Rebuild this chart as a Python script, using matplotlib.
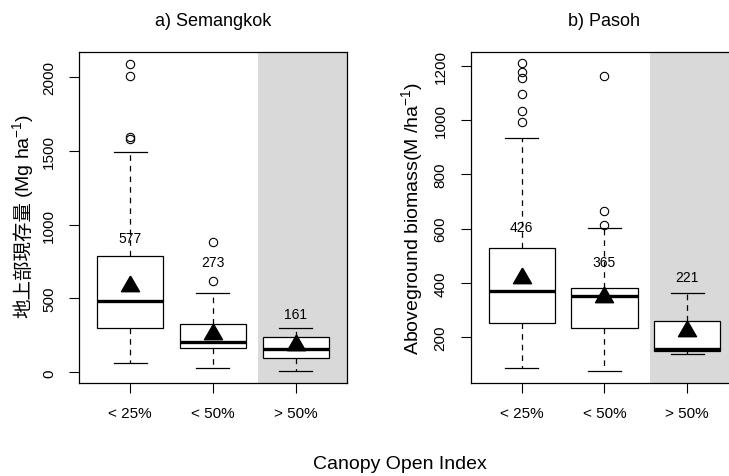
import matplotlib
matplotlib.use("Agg")
import matplotlib.pyplot as plt

plt.rcParams['font.family'] = ['Liberation Sans', 'Noto Sans CJK JP', 'DejaVu Sans']
plt.rcParams['mathtext.fontset'] = 'custom'
plt.rcParams['mathtext.rm'] = 'Liberation Sans'
plt.rcParams['mathtext.it'] = 'Liberation Sans'

categories = ['< 25%', '< 50%', '> 50%']

# a) Semangkok
sem_q1 = [303, 162, 99]
sem_med = [483, 207, 160]
sem_q3 = [787, 324, 241]
sem_lo = [61, 32, 11]
sem_hi = [1492, 537, 303]
sem_mean = [582, 260, 184]
sem_n = [577, 273, 161]
sem_fliers = [[2088, 2004, 1593, 1582], [885, 618], []]
sem_label_y = [910, 750, 396]
sem_yticks = [0, 500, 1000, 1500, 2000]

# b) Pasoh
pas_q1 = [252, 234, 148]
pas_med = [370, 351, 156]
pas_q3 = [528, 383, 259]
pas_lo = [87, 75, 139]
pas_hi = [933, 604, 362]
pas_mean = [420, 348, 224]
pas_n = [426, 365, 221]
pas_fliers = [[1209, 1178, 1154, 1096, 1031, 994], [1160, 664, 615], []]
pas_label_y = [605, 478, 421]
pas_yticks = [200, 400, 600, 800, 1000, 1200]

# triangle with its centroid on the data point (like R pch 17)
tri = [(0, 1.555), (1.347, -0.778), (-1.347, -0.778), (0, 1.555)]


def panel(ax, title, q1, med, q3, lo, hi, mean, n, fliers, label_y,
          yticks, ylim):
    stats = []
    for i in range(len(categories)):
        stats.append(dict(q1=q1[i], med=med[i], q3=q3[i], whislo=lo[i],
                          whishi=hi[i], mean=mean[i], fliers=fliers[i]))
    ax.axvspan(2.55, 4, color='#d9d9d9', lw=0, zorder=0)
    ax.bxp(stats, positions=[1, 2, 3], widths=0.8, showmeans=True,
           patch_artist=True,
           boxprops=dict(facecolor='white', edgecolor='black', lw=0.9),
           medianprops=dict(color='black', lw=2.4, solid_capstyle='butt'),
           whiskerprops=dict(color='black', lw=0.9, linestyle=(0, (4.5, 4))),
           capprops=dict(color='black', lw=0.9),
           flierprops=dict(marker='o', markerfacecolor='none',
                           markeredgecolor='black', markersize=6, mew=0.8),
           meanprops=dict(marker=tri, markerfacecolor='black',
                          markeredgecolor='black', markersize=15))
    for i in range(len(categories)):
        ax.text(i + 1, label_y[i], str(n[i]), ha='center', va='center',
                fontsize=10, zorder=5)
    ax.set_xlim(0.38, 3.62)
    ax.set_ylim(*ylim)
    ax.set_xticks([1, 2, 3], labels=categories)
    ax.set_yticks(yticks)
    ax.tick_params(axis='both', direction='out', length=7.5, width=0.8,
                   labelsize=11, pad=9)
    ax.tick_params(axis='y', labelrotation=90)
    for t in ax.get_yticklabels():
        t.set_va('center')
    for s in ax.spines.values():
        s.set_linewidth(0.9)
    ax.text(0.5, 1 + 31 / 331.3, title, transform=ax.transAxes,
            ha='center', va='center', fontsize=13)


fig = plt.figure(figsize=(7.29, 4.77), dpi=100)
ax1 = fig.add_axes([79 / 729, 93 / 477, 267.9 / 729, 331.3 / 477])
ax2 = fig.add_axes([470.5 / 729, 93 / 477, 267.9 / 729, 331.3 / 477])

panel(ax1, 'a) Semangkok',
      sem_q1, sem_med, sem_q3, sem_lo, sem_hi, sem_mean, sem_n, sem_fliers,
      sem_label_y, sem_yticks, (-72, 2170))
panel(ax2, 'b) Pasoh',
      pas_q1, pas_med, pas_q3, pas_lo, pas_hi, pas_mean, pas_n, pas_fliers,
      pas_label_y, pas_yticks, (32, 1251))

# left y label: Japanese part as plain text, unit part with mathtext superscript
ax1.text(-0.1866, 0.5524, '地上部現存量', transform=ax1.transAxes, rotation=90,
         rotation_mode='anchor', ha='right', va='baseline', fontsize=14)
ax1.text(-0.1866, 0.5615, '(Mg ha$^{-1}$)', transform=ax1.transAxes,
         rotation=90, rotation_mode='anchor', ha='left', va='baseline',
         fontsize=14)

ax2.set_ylabel('Aboveground biomass(M /ha$^{-1}$)', fontsize=14, va='center')
ax2.yaxis.set_label_coords(-0.218, 0.5)

fig.text(400 / 729, 1 - 465 / 477, 'Canopy Open Index', ha='center',
         va='center', fontsize=14)

fig.savefig('out.png', dpi=100)
